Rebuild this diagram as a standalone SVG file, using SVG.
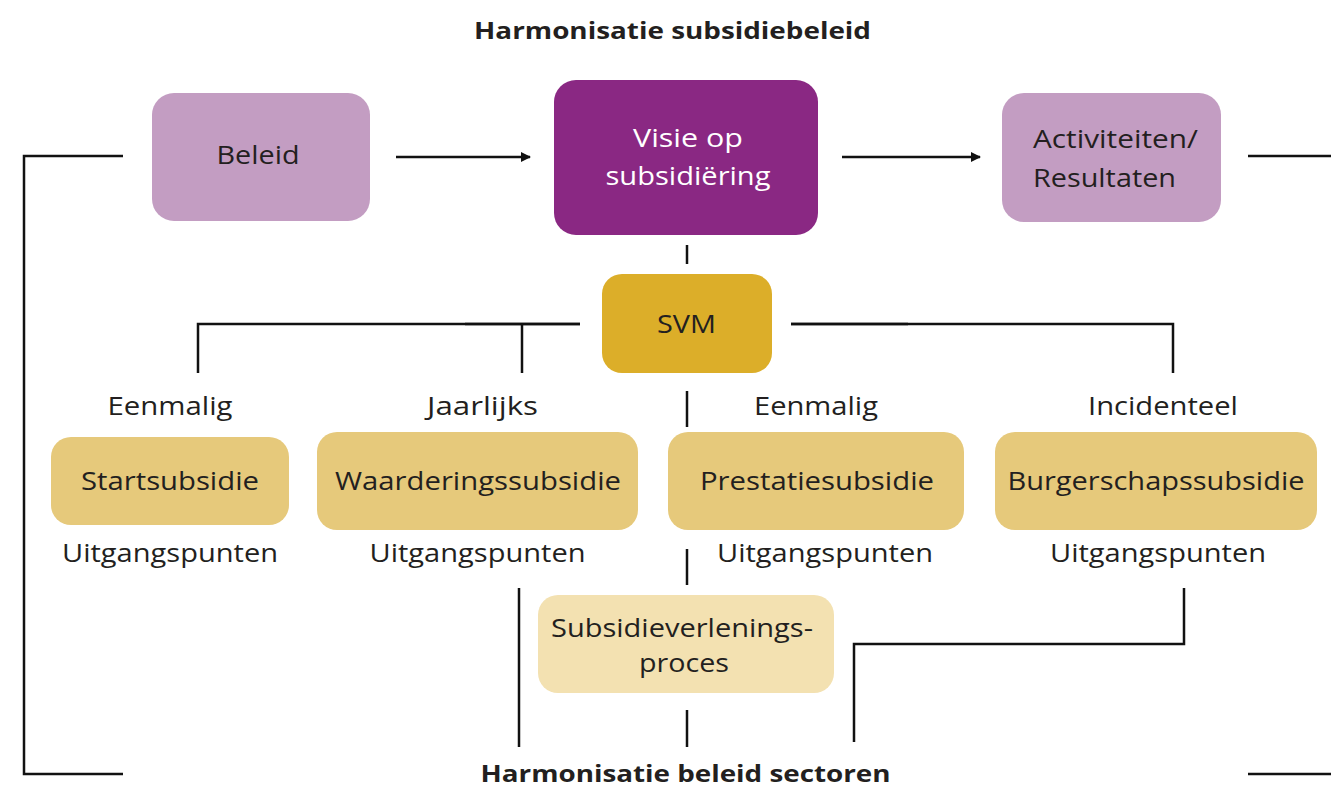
<svg xmlns="http://www.w3.org/2000/svg" width="1331" height="787" viewBox="0 0 1331 787">
<style>
.t{font-family:"Open Sans","Liberation Sans",sans-serif;font-size:25px;fill:#231f20;text-anchor:middle}
.s{text-anchor:start}
.h{font-family:"Open Sans","Liberation Sans",sans-serif;font-size:24px;font-weight:bold;fill:#231f20;text-anchor:middle}
.w{fill:#ffffff}
.ln{stroke:#111;stroke-width:2.5;fill:none}
.lilac{fill:#C39DC2}
.purple{fill:#8A2883}
.gold{fill:#DCAE29}
.sand{fill:#E6C97B}
.pale{fill:#F3E1B1}
</style>
<defs>
<marker id="arr" markerWidth="10" markerHeight="10" refX="9" refY="5" orient="auto" markerUnits="userSpaceOnUse">
<path d="M0,0 L10,5 L0,10 Z" fill="#111"/>
</marker>
</defs>
<rect width="1331" height="787" fill="#ffffff"/>
<text class="h" x="672.5" y="39" textLength="397" lengthAdjust="spacingAndGlyphs">Harmonisatie subsidiebeleid</text>
<text class="h" x="685.5" y="782" textLength="410" lengthAdjust="spacingAndGlyphs">Harmonisatie beleid sectoren</text>
<g id="connectors">
<path class="ln" d="M123,156 H24 V774 H123"/>
<path class="ln" d="M1248,156 H1331"/>
<path class="ln" d="M1248,774 H1331"/>
<path class="ln" d="M396,157 H530" marker-end="url(#arr)"/>
<path class="ln" d="M842,157 H980" marker-end="url(#arr)"/>
<path class="ln" d="M687,245 V264"/>
<path class="ln" d="M580,324 H198 V373"/>
<path class="ln" d="M580,324 H465"/>
<path class="ln" d="M522,324 V373"/>
<path class="ln" d="M791,324 H1173 V373"/>
<path class="ln" d="M791,324 H908"/>
<path class="ln" d="M687,391 V427"/>
<path class="ln" d="M687,549 V585"/>
<path class="ln" d="M519,588 V747"/>
<path class="ln" d="M687,710 V747"/>
<path class="ln" d="M1184,588 V644 H854 V742"/>
</g>
<g id="beleid">
<rect class="lilac" x="152" y="93" width="218" height="128" rx="22"/>
<text class="t" x="258" y="164" textLength="83" lengthAdjust="spacingAndGlyphs">Beleid</text>
</g>
<g id="visie">
<rect class="purple" x="554" y="80" width="264" height="155" rx="22"/>
<text class="t w" x="688" y="147" textLength="110" lengthAdjust="spacingAndGlyphs">Visie op</text>
<text class="t w" x="688" y="185" textLength="165" lengthAdjust="spacingAndGlyphs">subsidiëring</text>
</g>
<g id="activiteiten">
<rect class="lilac" x="1002" y="93" width="219" height="129" rx="22"/>
<text class="t s" x="1033" y="148" textLength="165" lengthAdjust="spacingAndGlyphs">Activiteiten/</text>
<text class="t s" x="1033" y="187" textLength="143" lengthAdjust="spacingAndGlyphs">Resultaten</text>
</g>
<g id="svm">
<rect class="gold" x="602" y="274" width="170" height="99" rx="20"/>
<text class="t" x="686.5" y="333" textLength="59" lengthAdjust="spacingAndGlyphs">SVM</text>
</g>
<g id="labels">
<text class="t" x="170" y="415" textLength="125" lengthAdjust="spacingAndGlyphs">Eenmalig</text>
<text class="t" x="482.5" y="415" textLength="111" lengthAdjust="spacingAndGlyphs">Jaarlijks</text>
<text class="t" x="816" y="415" textLength="124" lengthAdjust="spacingAndGlyphs">Eenmalig</text>
<text class="t" x="1163" y="415" textLength="150" lengthAdjust="spacingAndGlyphs">Incidenteel</text>
<text class="t" x="170" y="562" textLength="216" lengthAdjust="spacingAndGlyphs">Uitgangspunten</text>
<text class="t" x="477.5" y="562" textLength="216" lengthAdjust="spacingAndGlyphs">Uitgangspunten</text>
<text class="t" x="825" y="562" textLength="216" lengthAdjust="spacingAndGlyphs">Uitgangspunten</text>
<text class="t" x="1158" y="562" textLength="216" lengthAdjust="spacingAndGlyphs">Uitgangspunten</text>
</g>
<g id="startsubsidie">
<rect class="sand" x="51" y="437" width="238" height="88" rx="20"/>
<text class="t" x="170" y="490" textLength="178" lengthAdjust="spacingAndGlyphs">Startsubsidie</text>
</g>
<g id="waarderingssubsidie">
<rect class="sand" x="317" y="432" width="321" height="98" rx="20"/>
<text class="t" x="478" y="490" textLength="286" lengthAdjust="spacingAndGlyphs">Waarderingssubsidie</text>
</g>
<g id="prestatiesubsidie">
<rect class="sand" x="668" y="432" width="296" height="98" rx="20"/>
<text class="t" x="817" y="490" textLength="234" lengthAdjust="spacingAndGlyphs">Prestatiesubsidie</text>
</g>
<g id="burgerschapssubsidie">
<rect class="sand" x="995" y="432" width="322" height="98" rx="20"/>
<text class="t" x="1156" y="490" textLength="297" lengthAdjust="spacingAndGlyphs">Burgerschapssubsidie</text>
</g>
<g id="subsidieverleningsproces">
<rect class="pale" x="538" y="595" width="296" height="98" rx="20"/>
<text class="t" x="682" y="637" textLength="262" lengthAdjust="spacingAndGlyphs">Subsidieverlenings-</text>
<text class="t" x="684" y="672" textLength="90" lengthAdjust="spacingAndGlyphs">proces</text>
</g>
</svg>
